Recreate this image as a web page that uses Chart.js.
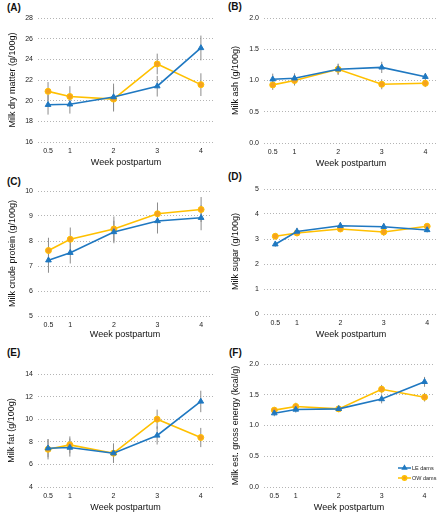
<!DOCTYPE html>
<html>
<head>
<meta charset="utf-8">
<script src="https://cdn.jsdelivr.net/npm/chart.js@4.4.1/dist/chart.umd.min.js"></script>
<style>
  body { margin: 0; background: #fff; width: 443px; height: 515px; position: relative; overflow: hidden; font-family: "Liberation Sans", Arial, sans-serif; }
  canvas { position: absolute; }
  .tag { position: absolute; font-weight: bold; font-size: 10px; color: #111; line-height: 12px; }
</style>
</head>
<body>
<script>
// weeks postpartum (x values) and x tick labels
const weeks = [0.5, 1, 2, 3, 4];
const seriesNames = ['LE dams', 'OW dams'];

// (A) milk dry matter, g/100g
const dryMatterLE = [19.6, 19.65, 20.35, 21.4, 25.1];
const dryMatterLEsd = [0.95, 0.9, 1.3, 1.0, 1.2];
const dryMatterOW = [20.9, 20.4, 20.15, 23.55, 21.55];
const dryMatterOWsd = [0.9, 1.0, 1.2, 1.0, 1.1];

// (B) milk ash, g/100g
const ashLE = [1.02, 1.035, 1.18, 1.21, 1.06];
const ashLEsd = [0.09, 0.08, 0.08, 0.09, 0.06];
const ashOW = [0.93, 1.0, 1.18, 0.94, 0.955];
const ashOWsd = [0.08, 0.08, 0.09, 0.08, 0.06];

// (C) milk crude protein, g/100g
const proteinLE = [7.23, 7.53, 8.36, 8.8, 8.93];
const proteinLEsd = [0.5, 0.43, 0.45, 0.5, 0.5];
const proteinOW = [7.62, 8.07, 8.48, 9.09, 9.26];
const proteinOWsd = [0.51, 0.47, 0.5, 0.45, 0.5];

// (D) milk sugar, g/100g
const sugarLE = [2.79, 3.3, 3.53, 3.49, 3.36];
const sugarLEsd = [0.1, 0.15, 0.15, 0.15, 0.1];
const sugarOW = [3.11, 3.24, 3.4, 3.28, 3.51];
const sugarOWsd = [0.1, 0.12, 0.12, 0.15, 0.12];

// (E) milk fat, g/100g
const fatLE = [7.43, 7.49, 6.99, 8.56, 11.57];
const fatLEsd = [0.8, 0.8, 0.85, 0.8, 0.95];
const fatOW = [7.34, 7.73, 6.99, 10.0, 8.38];
const fatOWsd = [0.9, 0.75, 0.85, 0.85, 0.85];

// (F) milk estimated gross energy, kcal/g
const energyLE = [1.2, 1.26, 1.27, 1.43, 1.71];
const energyLEsd = [0.05, 0.05, 0.05, 0.07, 0.08];
const energyOW = [1.25, 1.31, 1.27, 1.59, 1.46];
const energyOWsd = [0.05, 0.06, 0.05, 0.07, 0.07];

const panels = [
  { tag: '(A)', yTitle: 'Milk dry matter (g/100g)', le: dryMatterLE, leSd: dryMatterLEsd, ow: dryMatterOW, owSd: dryMatterOWsd, yMin: 16, yMax: 28, yStep: 2, dec: 0 },
  { tag: '(B)', yTitle: 'Milk ash (g/100g)', le: ashLE, leSd: ashLEsd, ow: ashOW, owSd: ashOWsd, yMin: 0, yMax: 2, yStep: 0.5, dec: 1 },
  { tag: '(C)', yTitle: 'Milk crude protein (g/100g)', le: proteinLE, leSd: proteinLEsd, ow: proteinOW, owSd: proteinOWsd, yMin: 5, yMax: 10, yStep: 1, dec: 0 },
  { tag: '(D)', yTitle: 'Milk sugar (g/100g)', le: sugarLE, leSd: sugarLEsd, ow: sugarOW, owSd: sugarOWsd, yMin: 0, yMax: 5, yStep: 1, dec: 0 },
  { tag: '(E)', yTitle: 'Milk fat (g/100g)', le: fatLE, leSd: fatLEsd, ow: fatOW, owSd: fatOWsd, yMin: 4, yMax: 14, yStep: 2, dec: 0 },
  { tag: '(F)', yTitle: 'Milk est. gross energy (kcal/g)', le: energyLE, leSd: energyLEsd, ow: energyOW, owSd: energyOWsd, yMin: 0, yMax: 2, yStep: 0.5, dec: 1, legend: true }
];

// canvas boxes and plot areas (px inside each canvas)
const frames = [
  { x: 0,   y: 0,   w: 221, h: 170, left: 38, right: 214, top: 18, bottom: 142, xMin: 0.27, xMax: 4.30, tagX: 7, tagY: 2, yt: 7.6, xt: 1.6 },
  { x: 221, y: 0,   w: 222, h: 170, left: 43, right: 217, top: 18, bottom: 143, xMin: 0.30, xMax: 4.29, tagX: 7, tagY: 1, yt: 9.6, xt: 1 },
  { x: 0,   y: 170, w: 221, h: 170, left: 38, right: 212, top: 21, bottom: 146, xMin: 0.26, xMax: 4.25, tagX: 7, tagY: 6, yt: 7.6, xt: 0 },
  { x: 221, y: 170, w: 222, h: 170, left: 43, right: 222, top: 19, bottom: 144, xMin: 0.24, xMax: 4.25, tagX: 7, tagY: 1, yt: 9.6, xt: 0 },
  { x: 0,   y: 340, w: 221, h: 175, left: 38, right: 213, top: 34, bottom: 147, xMin: 0.27, xMax: 4.28, tagX: 7, tagY: 7, yt: 6.6, xt: 1.6 },
  { x: 221, y: 340, w: 222, h: 175, left: 43, right: 213, top: 24, bottom: 147, xMin: 0.26, xMax: 4.22, tagX: 8, tagY: 7, yt: 9.6, xt: 1.6 }
];

const BLUE = '#1f78c1';
const GOLD = '#ffc000';
const ORANGE = '#f6a21e';
const FONT = '"Liberation Sans", Arial, sans-serif';

// vertical SD bars behind the lines
const errorBars = {
  id: 'errorBars',
  beforeDatasetsDraw(chart) {
    const ctx = chart.ctx, ys = chart.scales.y;
    chart.data.datasets.forEach((ds, i) => {
      const meta = chart.getDatasetMeta(i);
      ctx.save();
      ctx.strokeStyle = '#8c8c8c';
      ctx.lineWidth = 1;
      meta.data.forEach((pt, j) => {
        const v = ds.data[j].y, e = ds.sd[j];
        ctx.beginPath();
        ctx.moveTo(pt.x, ys.getPixelForValue(v - e));
        ctx.lineTo(pt.x, ys.getPixelForValue(v + e));
        ctx.stroke();
      });
      ctx.restore();
    });
  }
};

// small legend in the lower right corner of the plot
const cornerLegend = {
  id: 'cornerLegend',
  afterDatasetsDraw(chart, args, opts) {
    if (!opts.show) return;
    const ctx = chart.ctx, a = chart.chartArea;
    chart.data.datasets.forEach((ds, i) => {
      const x0 = a.right - 36, yy = a.bottom - 19 + i * 10;
      ctx.save();
      ctx.strokeStyle = ds.borderColor;
      ctx.lineWidth = 1.5;
      ctx.beginPath();
      ctx.moveTo(x0, yy);
      ctx.lineTo(x0 + 13, yy);
      ctx.stroke();
      ctx.fillStyle = ds.pointBackgroundColor;
      ctx.strokeStyle = ds.pointBorderColor;
      Chart.helpers.drawPoint(ctx, { pointStyle: ds.pointStyle, radius: 2.2, rotation: 0, borderWidth: 1 }, x0 + 6.5, yy);
      ctx.fillStyle = '#222';
      ctx.font = '5.5px ' + FONT;
      ctx.textBaseline = 'middle';
      ctx.fillText(ds.label, x0 + 14, yy);
      ctx.restore();
    });
  }
};

panels.forEach((p, k) => {
  const f = frames[k];
  const tag = document.createElement('div');
  tag.className = 'tag';
  tag.textContent = p.tag;
  tag.style.left = (f.x + f.tagX) + 'px';
  tag.style.top = (f.y + f.tagY) + 'px';
  document.body.appendChild(tag);

  const cv = document.createElement('canvas');
  cv.width = f.w; cv.height = f.h;
  cv.style.left = f.x + 'px'; cv.style.top = f.y + 'px';
  cv.style.width = f.w + 'px'; cv.style.height = f.h + 'px';
  document.body.appendChild(cv);

  const mk = (vals) => weeks.map((w, j) => ({ x: w, y: vals[j] }));

  new Chart(cv.getContext('2d'), {
    type: 'line',
    data: {
      datasets: [
        {
          label: seriesNames[0], data: mk(p.le), sd: p.leSd,
          borderColor: BLUE, borderWidth: 1.6,
          pointStyle: 'triangle', pointRadius: 3.3,
          pointBackgroundColor: BLUE, pointBorderColor: BLUE, pointBorderWidth: 1
        },
        {
          label: seriesNames[1], data: mk(p.ow), sd: p.owSd,
          borderColor: GOLD, borderWidth: 1.6,
          pointStyle: 'circle', pointRadius: 3,
          pointBackgroundColor: ORANGE, pointBorderColor: GOLD, pointBorderWidth: 1
        }
      ]
    },
    options: {
      responsive: false,
      animation: false,
      devicePixelRatio: 1,
      layout: { padding: { left: 0, top: f.top, right: f.w - f.right, bottom: 0 } },
      plugins: {
        legend: { display: false },
        tooltip: { enabled: false },
        cornerLegend: { show: !!p.legend }
      },
      scales: {
        x: {
          type: 'linear', min: f.xMin, max: f.xMax,
          afterBuildTicks: (s) => { s.ticks = weeks.map(v => ({ value: v })); },
          afterFit: (s) => { s.height = f.h - f.bottom; },
          grid: { display: false, drawTicks: false },
          border: { display: false },
          ticks: { font: { family: FONT, size: 7 }, color: '#222', padding: 5, maxRotation: 0, autoSkip: false },
          title: { display: true, text: 'Week postpartum', font: { family: FONT, size: 9 }, color: '#111', padding: { top: 0, bottom: f.xt } }
        },
        y: {
          min: p.yMin, max: p.yMax,
          afterFit: (s) => { s.width = f.left; },
          grid: { color: '#b4b4b4', lineWidth: 1, drawTicks: false },
          border: { display: false, dash: [1, 2] },
          ticks: { stepSize: p.yStep, font: { family: FONT, size: 7 }, color: '#222', padding: 5, callback: (v) => Number(v).toFixed(p.dec) },
          title: { display: true, text: p.yTitle, font: { family: FONT, size: 9 }, color: '#111', padding: { top: f.yt, bottom: 0 } }
        }
      }
    },
    plugins: [errorBars, cornerLegend]
  });
});
</script>
</body>
</html>
